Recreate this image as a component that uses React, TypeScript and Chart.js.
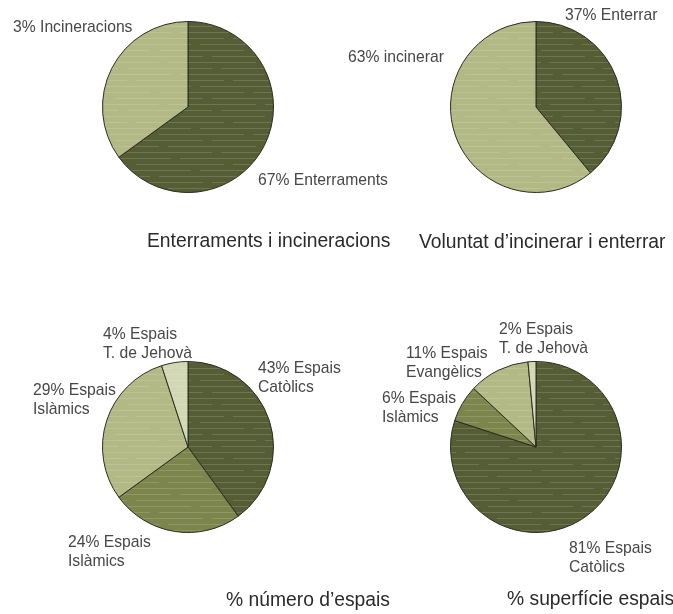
import React, { useEffect, useRef } from "react";
import { Chart, registerables } from "chart.js";

Chart.register(...registerables);

// ---------- data ----------
const burialValues = [65, 35];
const burialLabels = ["67% Enterraments", "3% Incineracions"];

const wishValues = [39, 61];
const wishLabels = ["37% Enterrar", "63% incinerar"];

const countValues = [40, 25, 30, 5];
const countLabels = [
  "43% Espais\nCatòlics",
  "24% Espais\nIslàmics",
  "29% Espais\nIslàmics",
  "4% Espais\nT. de Jehovà",
];

const areaValues = [80, 7, 11.5, 1.5];
const areaLabels = [
  "81% Espais\nCatòlics",
  "6% Espais\nIslàmics",
  "11% Espais\nEvangèlics",
  "2% Espais\nT. de Jehovà",
];

const titles = [
  "Enterraments i incineracions",
  "Voluntat d’incinerar i enterrar",
  "% número d’espais",
  "% superfície espais",
];

// ---------- layout / style ----------
const W = 673;
const H = 614;
const R = 86;
const DARK = "#555d34";
const MID = "#7c854b";
const LIGHT = "#b2b985";
const PALE = "#d3d8b4";
const BORDER = "#2c2c22";
const LABEL_FONT = '15.7px "Liberation Sans", Arial, sans-serif';
const TITLE_FONT = '19.3px "Liberation Sans", Arial, sans-serif';
const LINE = 18.5;

type Panel = {
  cx: number;
  cy: number;
  values: number[];
  labels: string[];
  colors: string[];
  labelPos: [number, number][];
  title: string;
  titlePos: [number, number];
};

const panels: Panel[] = [
  {
    cx: 188,
    cy: 107,
    values: burialValues,
    labels: burialLabels,
    colors: [DARK, LIGHT],
    labelPos: [
      [258, 185],
      [13, 32],
    ],
    title: titles[0],
    titlePos: [147, 247],
  },
  {
    cx: 536,
    cy: 107,
    values: wishValues,
    labels: wishLabels,
    colors: [DARK, LIGHT],
    labelPos: [
      [565, 20],
      [348, 62],
    ],
    title: titles[1],
    titlePos: [419, 248],
  },
  {
    cx: 188,
    cy: 447,
    values: countValues,
    labels: countLabels,
    colors: [DARK, MID, LIGHT, PALE],
    labelPos: [
      [258, 373],
      [68, 547],
      [33, 395],
      [103, 339],
    ],
    title: titles[2],
    titlePos: [226, 606],
  },
  {
    cx: 536,
    cy: 447,
    values: areaValues,
    labels: areaLabels,
    colors: [DARK, MID, LIGHT, PALE],
    labelPos: [
      [569, 553],
      [382, 403],
      [406, 358],
      [499, 334],
    ],
    title: titles[3],
    titlePos: [507, 605],
  },
];

// faint horizontal streak texture (decorative, deterministic)
const PW = 191;
const ROWS = 7;
const ROW_H = 6;

function makePattern(color: string): CanvasPattern | string {
  const c = document.createElement("canvas");
  const ph = ROWS * ROW_H;
  c.width = PW;
  c.height = ph;
  const g = c.getContext("2d");
  if (!g) return color;
  g.fillStyle = color;
  g.fillRect(0, 0, PW, ph);
  g.lineWidth = 1;
  for (let r = 0; r < ROWS; r++) {
    const y = r * ROW_H + 2.5;
    const off = (r * 53) % PW;
    const gaps = [off, (off + 97) % PW];
    g.strokeStyle = "rgba(255,255,255,0.15)";
    // draw a full-width line broken by two small gaps
    let segs: [number, number][] = [[0, PW]];
    gaps.forEach((gx) => {
      const next: [number, number][] = [];
      segs.forEach(([a, b]) => {
        if (gx >= b || gx + 9 <= a) {
          next.push([a, b]);
        } else {
          if (gx > a) next.push([a, gx]);
          if (gx + 9 < b) next.push([gx + 9, b]);
        }
      });
      segs = next;
    });
    segs.forEach(([a, b]) => {
      g.beginPath();
      g.moveTo(a, y);
      g.lineTo(b, y);
      g.stroke();
    });
  }
  const p = g.createPattern(c, "repeat");
  return p || color;
}

export default function App() {
  const refs = useRef<(HTMLCanvasElement | null)[]>([]);

  useEffect(() => {
    const charts: Chart[] = [];
    panels.forEach((p, i) => {
      const canvas = refs.current[i];
      if (!canvas) return;
      const textPlugin = {
        id: "pieText" + i,
        afterDraw(chart: any) {
          const ctx = chart.ctx as CanvasRenderingContext2D;
          ctx.save();
          ctx.textBaseline = "alphabetic";
          ctx.textAlign = "left";
          ctx.font = LABEL_FONT;
          ctx.fillStyle = "#474747";
          p.labels.forEach((lab, j) => {
            const [x, y] = p.labelPos[j];
            lab.split("\n").forEach((line, k) => {
              ctx.fillText(line, x, y + k * LINE);
            });
          });
          ctx.font = TITLE_FONT;
          ctx.fillStyle = "#2a2a2a";
          ctx.fillText(p.title, p.titlePos[0], p.titlePos[1]);
          ctx.restore();
        },
      };
      const chart = new Chart(canvas, {
        type: "pie",
        data: {
          labels: p.labels.map((l) => l.replace("\n", " ")),
          datasets: [
            {
              data: p.values,
              backgroundColor: p.colors.map((c) => makePattern(c)) as any,
              borderColor: BORDER,
              borderWidth: 1,
              hoverOffset: 0,
            },
          ],
        },
        options: {
          responsive: false,
          animation: false,
          events: [],
          layout: {
            padding: {
              left: p.cx - R,
              top: p.cy - R,
              right: W - (p.cx + R),
              bottom: H - (p.cy + R),
            },
          },
          plugins: {
            legend: { display: false },
            tooltip: { enabled: false },
          },
        },
        plugins: [textPlugin],
      });
      charts.push(chart);
    });
    return () => {
      charts.forEach((c) => c.destroy());
    };
  }, []);

  return (
    <div
      style={{
        position: "absolute",
        left: 0,
        top: 0,
        width: W,
        height: H,
        background: "#ffffff",
      }}
    >
      {panels.map((_, i) => (
        <canvas
          key={i}
          ref={(el) => {
            refs.current[i] = el;
          }}
          width={W}
          height={H}
          style={{ position: "absolute", left: 0, top: 0, width: W, height: H }}
        />
      ))}
    </div>
  );
}
